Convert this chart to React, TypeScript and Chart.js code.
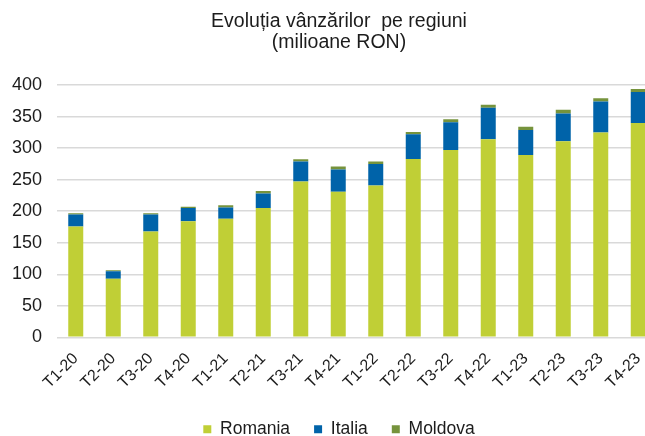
import React, { useEffect, useRef } from "react";
import { Chart, registerables } from "chart.js";

Chart.register(...registerables);

const categories = [
  "T1-20", "T2-20", "T3-20", "T4-20",
  "T1-21", "T2-21", "T3-21", "T4-21",
  "T1-22", "T2-22", "T3-22", "T4-22",
  "T1-23", "T2-23", "T3-23", "T4-23",
];
const romania = [176, 93, 168, 184, 188, 205, 247, 231, 241, 283, 297, 314, 289, 311, 325, 340];
const italia = [19, 12, 27, 21, 18, 23, 32, 35, 34, 39, 44, 50, 40, 44, 49, 49];
const moldova = [2, 1.5, 2, 2, 3.5, 4, 3.5, 5, 4, 3.5, 5, 5, 5, 6, 5, 5];
const yMin = 0;
const yMax = 400;
const yStep = 50;

const titleLines = ["Evoluția vânzărilor  pe regiuni", "(milioane RON)"];
const seriesNames = ["Romania", "Italia", "Moldova"];
const seriesColors = ["#c0cf36", "#0063a9", "#76933c"];

const FONT = "'Liberation Sans', Arial, sans-serif";
const TEXT = "#1c1c1c";

export default function App() {
  const ref = useRef<HTMLCanvasElement | null>(null);

  useEffect(() => {
    if (!ref.current) return;
    const values = [romania, italia, moldova];
    const chart = new Chart(ref.current, {
      type: "bar",
      data: {
        labels: categories,
        datasets: seriesNames.map((name, i) => ({
          label: name,
          data: values[i],
          backgroundColor: seriesColors[i],
          borderWidth: 0,
          barPercentage: 0.4,
          categoryPercentage: 1,
        })),
      },
      options: {
        animation: false,
        responsive: true,
        maintainAspectRatio: false,
        layout: { padding: { left: 0, right: 0, top: 0, bottom: -12 } },
        plugins: {
          title: {
            display: true,
            text: titleLines,
            color: TEXT,
            font: { family: FONT, size: 19.5, weight: "normal", lineHeight: 1.08 },
            padding: { top: 11, bottom: 32 },
          },
          legend: {
            position: "bottom",
            labels: {
              color: TEXT,
              font: { family: FONT, size: 17.5 },
              boxWidth: 8,
              boxHeight: 8,
              padding: 24,
            },
          },
          tooltip: { enabled: false },
        },
        scales: {
          x: {
            stacked: true,
            grid: { display: false },
            border: { display: false },
            ticks: {
              color: TEXT,
              font: { family: FONT, size: 16 },
              minRotation: 45,
              maxRotation: 45,
              autoSkip: false,
              padding: 4,
            },
          },
          y: {
            stacked: true,
            min: yMin,
            max: yMax,
            grid: { color: "#d9d9d9", lineWidth: 1.5, drawTicks: false },
            border: { display: false },
            ticks: {
              stepSize: yStep,
              color: TEXT,
              font: { family: FONT, size: 18 },
              padding: 15,
            },
            afterFit: (scale: any) => {
              scale.width = 57;
            },
          },
          yRight: {
            position: "right",
            display: true,
            grid: { display: false, drawTicks: false },
            border: { display: false },
            ticks: { display: false },
            afterFit: (scale: any) => {
              scale.width = 21;
            },
          },
        },
      },
    });
    return () => chart.destroy();
  }, []);

  return (
    <div
      style={{
        position: "fixed",
        left: 0,
        top: 0,
        width: 645,
        height: 436,
        overflow: "hidden",
        background: "#fff",
      }}
    >
      <div style={{ position: "relative", width: 678, height: 436 }}>
        <canvas ref={ref} />
      </div>
    </div>
  );
}
